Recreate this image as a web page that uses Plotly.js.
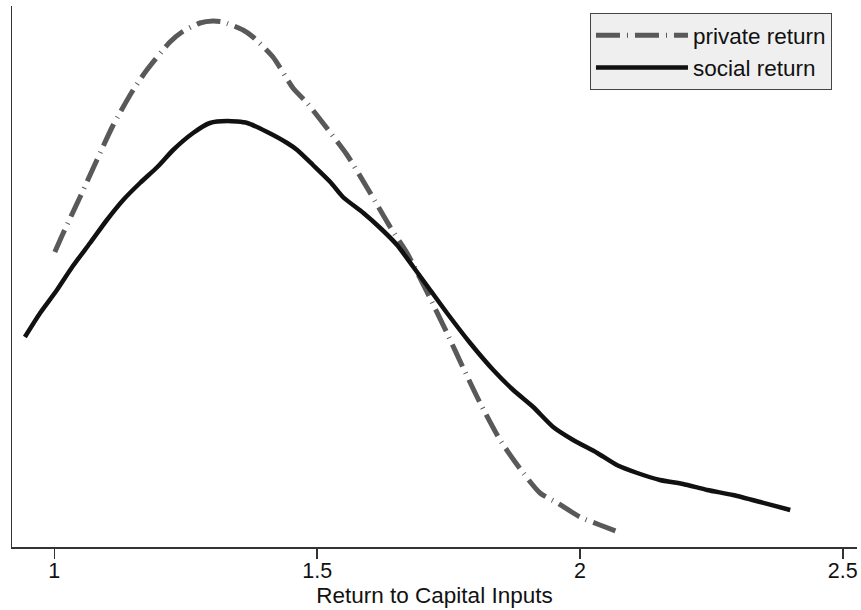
<!DOCTYPE html>
<html>
<head>
<meta charset="utf-8">
<script src="https://cdn.plot.ly/plotly-3.0.1.min.js"></script>
<style>html,body{margin:0;padding:0;background:#fff}#chart{width:861px;height:610px}</style>
</head>
<body>
<div id="chart"></div>
<script>
// Private return density
const privateX = [1.001,1.017,1.049,1.081,1.112,1.150,1.176,1.220,1.243,1.277,1.302,1.321,1.359,1.378,1.416,1.454,1.481,1.511,1.557,1.601,1.639,1.671,1.709,1.747,1.777,1.810,1.848,1.892,1.924,1.957,2.000,2.038,2.078];
const privateY = [1.475,1.57,1.75,1.935,2.11,2.285,2.385,2.525,2.575,2.62,2.63,2.625,2.585,2.55,2.45,2.295,2.22,2.12,1.96,1.77,1.60,1.47,1.275,1.07,0.90,0.72,0.535,0.37,0.27,0.22,0.15,0.11,0.07];
// Social return density
const socialX = [0.944,0.973,1.005,1.034,1.068,1.100,1.131,1.163,1.196,1.226,1.264,1.296,1.329,1.367,1.405,1.443,1.462,1.492,1.525,1.549,1.588,1.620,1.652,1.683,1.715,1.747,1.791,1.835,1.873,1.911,1.949,1.987,2.033,2.070,2.109,2.152,2.196,2.242,2.291,2.343,2.400];
const socialY = [1.05,1.17,1.285,1.40,1.52,1.635,1.735,1.82,1.90,1.985,2.07,2.12,2.13,2.12,2.075,2.02,1.985,1.91,1.825,1.75,1.67,1.595,1.51,1.40,1.285,1.17,1.02,0.885,0.785,0.70,0.60,0.535,0.47,0.41,0.37,0.335,0.315,0.285,0.26,0.225,0.185];
const tickVals = [1, 1.5, 2, 2.5];
const tickText = ["1", "1.5", "2", "2.5"];
const seriesNames = ["private return", "social return"];
const xTitle = "Return to Capital Inputs";

const fam = "Liberation Sans, Arial, sans-serif";
const tickFont = {family: fam, size: 21.5, color: "#111"};
const bigFont = {family: fam, size: 22.5, color: "#111"};

const traces = [
  {x: privateX, y: privateY, name: seriesNames[0], type: "scatter", mode: "lines",
   line: {color: "#595959", width: 5, dash: "24px,7px,1px,7px", shape: "spline", smoothing: 0.6}},
  {x: socialX, y: socialY, name: seriesNames[1], type: "scatter", mode: "lines",
   line: {color: "#111111", width: 4.5, shape: "spline", smoothing: 0.6}}
];

const layout = {
  width: 861, height: 610,
  margin: {l: 12, r: 4, t: 6, b: 63},
  paper_bgcolor: "#fff", plot_bgcolor: "#fff",
  font: tickFont,
  showlegend: true,
  legend: {x: 0.684, y: 0.987, xanchor: "left", yanchor: "top",
           bgcolor: "#efefef", bordercolor: "#444", borderwidth: 1,
           font: bigFont, itemwidth: 92, entrywidth: 255, entrywidthmode: "pixels"},
  xaxis: {range: [0.9195, 2.527], showgrid: false, zeroline: false,
          showline: true, linecolor: "#333", linewidth: 1.5,
          ticks: "outside", ticklen: 10, tickwidth: 1.5, tickcolor: "#333",
          tickvals: tickVals, ticktext: tickText, tickfont: tickFont,
          ticklabelstandoff: -6,
          title: {text: xTitle, font: bigFont, standoff: 2}},
  yaxis: {range: [0, 2.705], showgrid: false, zeroline: false,
          showline: true, linecolor: "#333", linewidth: 1.5,
          showticklabels: false, ticks: ""}
};

Plotly.newPlot("chart", traces, layout, {displayModeBar: false, staticPlot: true});
</script>
</body>
</html>
